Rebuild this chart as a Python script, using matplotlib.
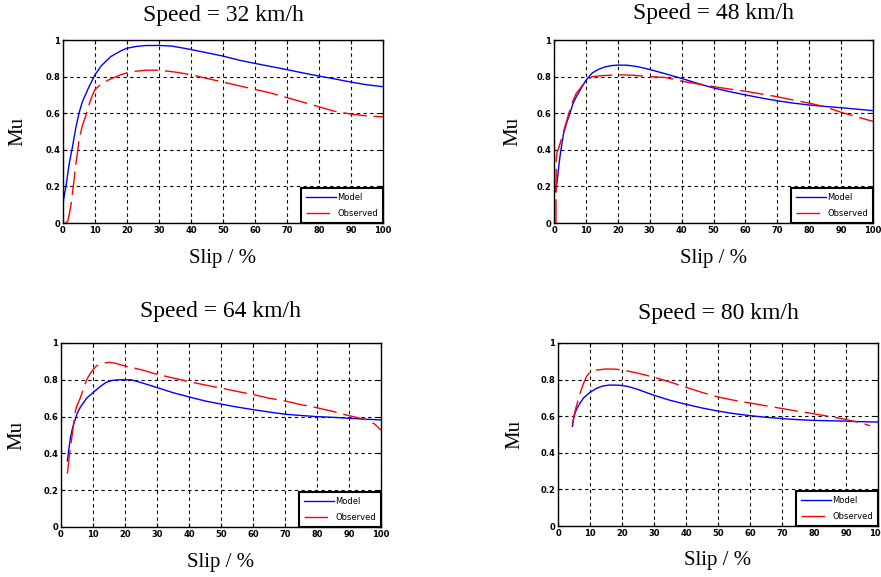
import matplotlib
matplotlib.use("Agg")
import matplotlib.pyplot as plt

# ---------------- data ----------------
speeds = ["Speed = 32 km/h", "Speed = 48 km/h", "Speed = 64 km/h", "Speed = 80 km/h"]

model_x_32 = [0, 1, 2, 3, 4, 5, 6, 7, 8, 10, 12, 15, 18, 20, 23, 26, 30, 34, 40, 45, 50, 55, 60, 65, 70, 75, 80, 85, 90, 95, 100]
model_y_32 = [0.11, 0.21, 0.33, 0.42, 0.52, 0.60, 0.66, 0.70, 0.74, 0.81, 0.86, 0.91, 0.94, 0.955, 0.965, 0.97, 0.97, 0.967, 0.948, 0.93, 0.912, 0.89, 0.872, 0.855, 0.838, 0.82, 0.803, 0.787, 0.77, 0.755, 0.745]
obs_x_32 = [0.5, 1, 1.5, 2, 2.5, 3, 3.5, 4, 4.5, 5, 6, 7, 8, 9, 10, 12, 14, 16, 18, 20, 23, 26, 30, 35, 40, 45, 50, 55, 60, 65, 70, 75, 80, 85, 90, 95, 100]
obs_y_32 = [0, 0, 0.01, 0.05, 0.1, 0.17, 0.24, 0.32, 0.38, 0.45, 0.53, 0.58, 0.64, 0.69, 0.73, 0.76, 0.78, 0.795, 0.81, 0.82, 0.83, 0.835, 0.835, 0.825, 0.81, 0.79, 0.77, 0.75, 0.73, 0.71, 0.685, 0.66, 0.635, 0.61, 0.595, 0.585, 0.58]

model_x_48 = [0.5, 1, 1.5, 2, 3, 4, 5, 6, 7, 8, 10, 12, 14, 16, 18, 20, 23, 26, 30, 35, 40, 45, 50, 55, 60, 65, 70, 75, 80, 85, 90, 95, 100]
model_y_48 = [0.17, 0.23, 0.31, 0.38, 0.49, 0.55, 0.60, 0.655, 0.69, 0.72, 0.78, 0.82, 0.84, 0.853, 0.86, 0.863, 0.862, 0.855, 0.839, 0.815, 0.79, 0.763, 0.738, 0.718, 0.70, 0.683, 0.668, 0.655, 0.645, 0.637, 0.63, 0.622, 0.614]
obs_x_48 = [0.6, 0.7, 1, 1.5, 2, 3, 4, 5, 6, 7, 8, 9, 10, 12, 15, 20, 25, 30, 35, 40, 45, 50, 55, 60, 65, 70, 75, 80, 85, 90, 95, 100]
obs_y_48 = [0.0, 0.35, 0.39, 0.41, 0.44, 0.5, 0.56, 0.62, 0.67, 0.71, 0.73, 0.755, 0.775, 0.8, 0.805, 0.81, 0.807, 0.8, 0.795, 0.775, 0.76, 0.745, 0.732, 0.72, 0.705, 0.69, 0.672, 0.655, 0.635, 0.605, 0.58, 0.555]

model_x_64 = [2, 2.5, 3, 3.5, 4, 5, 6, 7, 8, 10, 12, 14, 16, 18, 20, 22, 25, 30, 35, 40, 45, 50, 55, 60, 65, 70, 75, 80, 85, 90, 95, 100]
model_y_64 = [0.36, 0.43, 0.49, 0.53, 0.56, 0.615, 0.65, 0.675, 0.70, 0.73, 0.76, 0.785, 0.797, 0.80, 0.80, 0.80, 0.785, 0.758, 0.73, 0.707, 0.685, 0.668, 0.652, 0.638, 0.625, 0.613, 0.606, 0.6, 0.596, 0.591, 0.586, 0.582]
obs_x_64 = [2, 2.5, 3, 3.5, 4, 4.5, 5, 6, 7, 8, 9, 10, 11, 13, 15, 17, 20, 25, 30, 35, 40, 45, 50, 55, 60, 65, 70, 75, 80, 85, 90, 95, 98, 100]
obs_y_64 = [0.29, 0.37, 0.44, 0.5, 0.57, 0.63, 0.66, 0.7, 0.75, 0.8, 0.83, 0.855, 0.875, 0.89, 0.895, 0.89, 0.875, 0.855, 0.83, 0.81, 0.79, 0.772, 0.755, 0.737, 0.72, 0.7, 0.685, 0.665, 0.648, 0.628, 0.605, 0.585, 0.56, 0.527]

model_x_80 = [4.5, 5, 5.5, 6, 7, 8, 9, 10, 12, 14, 16, 18, 20, 22, 25, 30, 35, 40, 45, 50, 55, 60, 65, 70, 75, 80, 85, 90, 95, 100]
model_y_80 = [0.545, 0.6, 0.625, 0.645, 0.675, 0.70, 0.715, 0.73, 0.752, 0.765, 0.77, 0.77, 0.768, 0.762, 0.746, 0.714, 0.687, 0.665, 0.645, 0.628, 0.614, 0.603, 0.594, 0.587, 0.581, 0.577, 0.575, 0.573, 0.57, 0.568]
obs_x_80 = [4.5, 5, 5.5, 6, 7, 8, 9, 10, 12, 15, 18, 20, 25, 30, 35, 40, 45, 50, 55, 60, 65, 70, 75, 80, 85, 90, 95, 97.5]
obs_y_80 = [0.56, 0.6, 0.64, 0.67, 0.73, 0.78, 0.82, 0.84, 0.852, 0.858, 0.857, 0.853, 0.835, 0.813, 0.787, 0.758, 0.73, 0.705, 0.687, 0.672, 0.657, 0.642, 0.627, 0.613, 0.598, 0.582, 0.562, 0.548]

x_ticks = [0, 10, 20, 30, 40, 50, 60, 70, 80, 90, 100]
x_tick_labels = ["0", "10", "20", "30", "40", "50", "60", "70", "80", "90", "100"]
y_ticks = [0, 0.2, 0.4, 0.6, 0.8, 1.0]
y_tick_labels = ["0", "0.2", "0.4", "0.6", "0.8", "1"]

series = [
    (model_x_32, model_y_32, obs_x_32, obs_y_32),
    (model_x_48, model_y_48, obs_x_48, obs_y_48),
    (model_x_64, model_y_64, obs_x_64, obs_y_64),
    (model_x_80, model_y_80, obs_x_80, obs_y_80),
]

# ---------------- layout (pixels) ----------------
W, H = 881, 577
boxes = [  # left, top, right, bottom in pixels
    (63, 40, 383, 223),
    (554, 40, 873, 223),
    (61, 343, 381, 527),
    (558, 343, 878, 526),
]
title_offsets = [25, 27, 31, 30]   # title centre above axes top, px
ylabel_offsets = [45, 41, 44, 43]  # ylabel centre left of axes, px

fig = plt.figure(figsize=(W / 100, H / 100), dpi=100)
serif = "Liberation Serif"

for (l, t, r, b), title, (mx, my, ox, oy), toff, yoff in zip(
        boxes, speeds, series, title_offsets, ylabel_offsets):
    ax = fig.add_axes([l / W, 1 - b / H, (r - l) / W, (b - t) / H])
    ax.plot(mx, my, color=(0, 0, 1), lw=1.0, label="Model")
    ax.plot(ox, oy, color=(1, 0, 0), lw=1.0, dashes=(17, 5), label="Observed")
    ax.set_xlim(0, 100)
    ax.set_ylim(0, 1)
    ax.set_xticks(x_ticks)
    ax.set_xticklabels(x_tick_labels)
    ax.set_yticks(y_ticks)
    ax.set_yticklabels(y_tick_labels)
    ax.tick_params(direction="in", length=3, width=0.8, top=True, right=True,
                   labelsize=6, pad=2)
    for lab in ax.get_xticklabels() + ax.get_yticklabels():
        lab.set_fontweight("bold")
    ax.grid(True, color="black", linestyle=(0, (3, 3)), lw=0.8)
    for s in ax.spines.values():
        s.set_linewidth(1.0)
    pw = r - l
    ph = b - t
    ax.text(0.5, 1 + toff / ph, title, transform=ax.transAxes,
            fontfamily=serif, fontsize=17, ha="center", va="center")
    ax.set_xlabel("Slip / %", fontfamily=serif, fontsize=15, va="center")
    ax.xaxis.set_label_coords(0.5, -35 / ph)
    ax.set_ylabel("Mu", fontfamily=serif, fontsize=15, va="center")
    ax.yaxis.set_label_coords(-yoff / pw, 0.5)
    leg = ax.legend(loc="lower right", borderaxespad=0, fontsize=6,
                    handlelength=3.6, fancybox=False, framealpha=1,
                    edgecolor="black", borderpad=0.6, labelspacing=0.8,
                    handletextpad=0.2)
    leg.get_frame().set_linewidth(1.5)

fig.savefig("out.png", dpi=100)
